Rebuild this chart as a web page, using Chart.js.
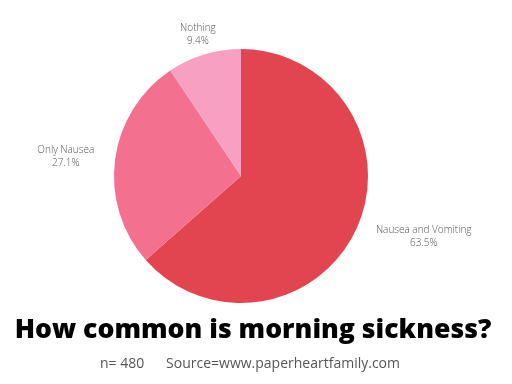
<!DOCTYPE html>
<html>
<head>
<meta charset="utf-8">
<script src="https://cdn.jsdelivr.net/npm/chart.js@4"></script>
<style>
  html, body { margin: 0; padding: 0; background: #fff; }
  #wrap { position: relative; width: 512px; height: 384px; overflow: hidden; }
  #myChart { position: absolute; left: 0; top: 0; }
  .title {
    position: absolute; left: -3px; width: 512px; top: 309px;
    text-align: center; font-family: "Open Sans", sans-serif;
    font-weight: 800; font-size: 26.6px; color: #000; line-height: 38px;
  }
  .sub {
    position: absolute; left: -6px; width: 512px; top: 353px;
    text-align: center; font-family: "Open Sans", sans-serif;
    font-weight: 400; font-size: 14px; color: #555; white-space: pre; line-height: 20px;
  }
</style>
</head>
<body>
<div id="wrap">
  <canvas id="myChart" width="512" height="384"></canvas>
  <div class="title">How common is morning sickness?</div>
  <div class="sub">n= 480      Source=www.paperheartfamily.com</div>
</div>
<script>
// chart data
var labels = ["Nausea and Vomiting", "Only Nausea", "Nothing"];
var values = [63.5, 27.1, 9.4];
var sliceColors = ["#e2454f", "#f3718f", "#f8a0c2"];

// draws the name + percent outside each slice
var outsideLabels = {
    id: 'outsideLabels',
    afterDraw: function (chart) {
        var ctx = chart.ctx;
        var meta = chart.getDatasetMeta(0);
        ctx.save();
        ctx.font = '300 10px "Open Sans", sans-serif';
        ctx.fillStyle = '#555';
        ctx.textBaseline = 'middle';
        ctx.textAlign = 'center';
        meta.data.forEach(function (arc, i) {
            var mid = (arc.startAngle + arc.endAngle) / 2;
            var r = arc.outerRadius + 21;
            var px = arc.x + Math.cos(mid) * r;
            var py = arc.y + Math.sin(mid) * r;
            var line1 = labels[i];
            var line2 = values[i].toFixed(1) + '%';
            var w = Math.max(ctx.measureText(line1).width, ctx.measureText(line2).width);
            var c = Math.cos(mid);
            var cx = px;
            if (Math.abs(c) >= 0.35) cx = c > 0 ? px + w / 2 : px - w / 2;
            ctx.fillText(line1, cx, py - 6.5);
            ctx.fillText(line2, cx, py + 6.5);
        });
        ctx.restore();
    }
};

new Chart("myChart", {
    type: "pie",
    data: {
        labels: labels,
        datasets: [{
            data: values,
            backgroundColor: sliceColors,
            borderWidth: 0
        }]
    },
    options: {
        responsive: false,
        animation: false,
        layout: { padding: { top: 49, bottom: 81, left: 114, right: 144 } },
        plugins: {
            legend: { display: false },
            tooltip: { enabled: false }
        }
    },
    plugins: [outsideLabels]
});
</script>
</body>
</html>
